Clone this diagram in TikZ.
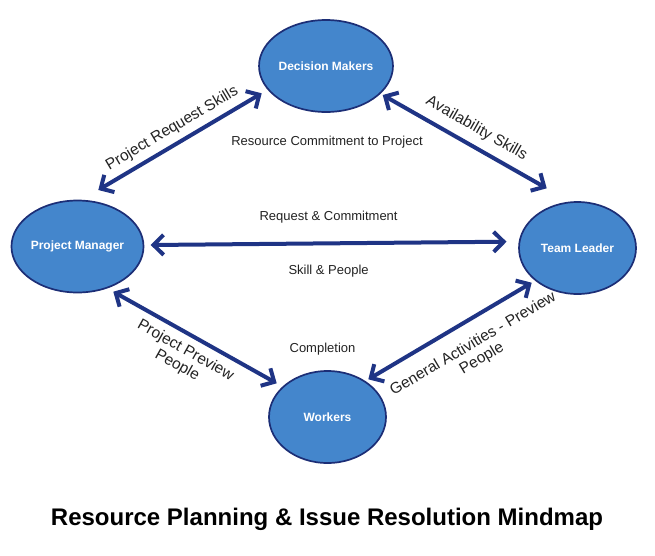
\documentclass[tikz,border=0pt]{standalone}
\usepackage{fontspec}
\setmainfont{Liberation Sans}
\usetikzlibrary{arrows.meta,shapes.geometric,calc}
\definecolor{nodefill}{RGB}{68,134,204}
\definecolor{nodeline}{RGB}{28,46,118}
\definecolor{arrowc}{RGB}{31,52,133}
\definecolor{labelc}{RGB}{35,35,35}
\begin{document}
\begin{tikzpicture}[x=1pt,y=-1pt,
  person/.style={ellipse, draw=nodeline, line width=1.7pt, fill=nodefill,
    minimum width=117pt, minimum height=92pt, inner sep=0pt,
    text=white, font=\bfseries\fontsize{12}{14}\selectfont},
  barb/.tip={Straight Barb[length=10pt,width=20pt,line width=4pt]},
  link/.style={draw=arrowc, line width=4pt, barb-barb},
  lab/.style={text=labelc, font=\fontsize{15.5}{17}\selectfont, inner sep=1pt, align=center},
  hlab/.style={text=labelc, font=\fontsize{13}{15}\selectfont, inner sep=1pt}]
\useasboundingbox[fill=white] (0,0) rectangle (655,555);

\node[person] (dm) at (326,66) {Decision Makers};
\node[person] (pm) at (77.5,246.5) {Project Manager};
\node[person] (tl) at (577.5,248) {Team Leader};
\node[person] (wk) at (327.5,417) {Workers};

% arrow ends, a little outside each ellipse
\coordinate (a1) at ($(pm)+(20.8,-56.5)$);
\coordinate (b1) at ($(dm)+(-64.3,27.3)$);
\coordinate (a2) at ($(dm)+(56.7,29)$);
\coordinate (b2) at ($(tl)+(-30.8,-59.7)$);
\coordinate (a3) at ($(pm)+(73.2,-1.5)$);
\coordinate (b3) at ($(tl)+(-71,-6.3)$);
\coordinate (a4) at ($(pm)+(35.8,45.2)$);
\coordinate (b4) at ($(wk)+(-50.8,-33.7)$);
\coordinate (a5) at ($(wk)+(40.8,-37.7)$);
\coordinate (b5) at ($(tl)+(-45.8,34.7)$);

\draw[link] (a1) -- node[lab, sloped, above=5pt] {Project Request Skills} (b1);
\draw[link] (a2) -- node[lab, sloped, pos=.52, above=7pt] {Availability Skills} (b2);
\draw[link] (a3) --
  node[hlab, above=17pt] {Request \& Commitment}
  node[hlab, below=19pt] {Skill \& People} (b3);
\draw[link] (a4) -- node[lab, sloped, pos=.49, below=6pt] {Project Preview\\People} (b4);
\draw[link] (a5) -- node[lab, sloped, pos=.57, below=13pt] {General Activities - Preview\\People} (b5);

\node[hlab] (rc) at (327,142) {Resource Commitment to Project};
\node[hlab] (cp) at (322.5,349) {Completion};
\node[font=\bfseries\fontsize{24}{28}\selectfont, text=black] (title) at (327,519)
  {Resource Planning \& Issue Resolution Mindmap};
\end{tikzpicture}
\end{document}
